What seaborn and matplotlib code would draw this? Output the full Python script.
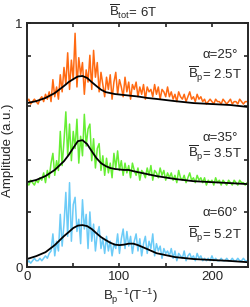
import matplotlib
matplotlib.use("Agg")
import matplotlib.pyplot as plt
import numpy as np
import seaborn as sns

# ---- Data ----
# noisy spectra sampled every 2 T^-1, heights in % of axis above each trace's floor
NOISE_X = list(range(0, 240, 2))
ORANGE_NOISE = [1, 2, 0, 1, 2, 1, 0, 2,
                3, 1, 4, 2, 5, 1,
                10, 3, 7, 2, 12,
                5, 15, 8, 21, 6,
                18, 10, 29, 7, 19,
                12, 17, 4, 14, 9,
                20, 6, 22, 11, 17,
                5, 13, 8, 3, 11,
                6, 12, 2, 9, 13,
                4, 10, 7, 3, 11,
                5, 9, 2, 8, 6,
                9, 3, 7, 4, 8,
                2, 7, 5, 6, 3, 8, 4, 7, 2, 6, 5, 3, 7,
                3, 5, 2, 4, 1, 5, 3, 2, 4, 1, 3, 5, 2, 3, 1, 4, 2, 3,
                1, 2, 0, 1, 2, 1, 0, 2, 1, 1, 0, 2, 1, 0, 1, 2, 0, 1, 1, 0, 2, 1, 0, 1, 1]
GREEN_NOISE = [1, 0, 2, 1, 0, 2, 1, 3,
               2, 5, 1, 6, 3, 9,
               13, 4, 10, 6, 22,
               8, 18, 30, 12, 25,
               10, 22, 15, 27, 9,
               20, 12, 29, 16, 23,
               25, 10, 19, 7, 15,
               17, 6, 12, 4, 11,
               5, 9, 3, 13, 7,
               14, 6, 10, 4, 9,
               5, 8, 3, 9, 6,
               4, 7, 2, 6, 5,
               3, 7, 4, 8, 2, 6, 5, 3, 7, 4, 6, 2, 5,
               3, 5, 2, 4, 1, 6, 3, 2, 4, 1, 3, 5, 2, 3, 1, 4, 2, 3,
               1, 3, 0, 2, 1, 2, 0, 3, 1, 2, 0, 2, 1, 0, 2, 1, 0, 2, 1, 0, 2, 1, 1, 0, 1]
BLUE_NOISE = [0, 1, 0, 1, 2, 1, 1, 2,
              1, 2, 3, 2, 4, 5,
              12, 3, 9, 5, 20,
              7, 16, 29, 11, 33,
              9, 24, 27, 13, 18,
              8, 26, 14, 20, 6,
              21, 9, 16, 5, 12,
              15, 6, 10, 4, 11,
              5, 9, 3, 8, 6,
              12, 4, 10, 14, 6,
              13, 7, 11, 4, 9,
              12, 5, 10, 3, 8,
              11, 4, 9, 6, 12, 3, 8, 5, 7, 2, 6, 4, 5,
              3, 6, 2, 5, 1, 4, 3, 2, 5, 1, 3, 4, 2, 3, 1, 4, 2, 3,
              1, 2, 1, 2, 1, 3, 1, 2, 1, 1, 2, 1, 1, 2, 1, 1, 2, 1, 1, 2, 1, 1, 2, 1, 1]
FLOORS = [0.668, 0.336, 0.016]

# smooth fits (black curves)
FIT_X = [0, 10, 20, 30, 40, 45, 50, 55, 60, 65, 70, 75, 80, 85, 90, 95, 100,
         105, 110, 115, 120, 130, 140, 160, 180, 200, 220, 239]
ORANGE_FIT = [0.672, 0.680, 0.693, 0.713, 0.742, 0.758, 0.770, 0.781, 0.783, 0.775,
              0.758, 0.742, 0.727, 0.717, 0.713, 0.709, 0.707, 0.705, 0.703, 0.701,
              0.699, 0.693, 0.689, 0.680, 0.672, 0.668, 0.664, 0.656]
GREEN_FIT = [0.348, 0.357, 0.373, 0.398, 0.434, 0.459, 0.488, 0.516, 0.520, 0.504,
             0.475, 0.447, 0.426, 0.414, 0.406, 0.402, 0.400, 0.398, 0.398, 0.393,
             0.389, 0.381, 0.373, 0.361, 0.352, 0.348, 0.344, 0.340]
BLUE_FIT = [0.033, 0.045, 0.061, 0.090, 0.127, 0.143, 0.160, 0.170, 0.172, 0.168,
            0.156, 0.139, 0.123, 0.111, 0.100, 0.092, 0.090, 0.092, 0.096, 0.096,
            0.090, 0.074, 0.057, 0.041, 0.033, 0.029, 0.025, 0.020]

ANGLES = ["α=25°", "α=35°", "α=60°"]
BP_LABELS = ["2.5T", "3.5T", "5.2T"]
COLORS = ["#FF6A12", "#66EE33", "#6CCBF7"]

# ---- Style ----
sns.set_style("ticks")
plt.rcParams["font.family"] = ["Liberation Sans", "DejaVu Sans"]
plt.rcParams["mathtext.fontset"] = "custom"
plt.rcParams["mathtext.rm"] = "Liberation Sans"
plt.rcParams["mathtext.it"] = "Liberation Sans:italic"

fig = plt.figure(figsize=(2.5, 3.07), dpi=100)
ax = fig.add_axes([0.108, 0.130, 0.884, 0.795])

noises = [ORANGE_NOISE, GREEN_NOISE, BLUE_NOISE]
fits = [ORANGE_FIT, GREEN_FIT, BLUE_FIT]
for noise, floor, fit, col in zip(noises, FLOORS, fits, COLORS):
    yvals = floor + np.array(noise) / 100.0
    sns.lineplot(x=NOISE_X, y=yvals, ax=ax, color=col, lw=1.1)
    sns.lineplot(x=FIT_X, y=fit, ax=ax, color="black", lw=1.3)

ax.set_xlim(0, 239)
ax.set_ylim(0, 1)
ax.set_xticks([0, 50, 100, 150, 200])
ax.set_xticklabels(["0", "", "100", "", "200"])
ax.set_yticks([0, 0.225, 0.44, 0.66, 0.865, 1])
ax.set_yticklabels(["0", "", "", "", "", "1"])
ax.tick_params(direction="in", length=3, width=1.2, labelsize=9.5, pad=3,
               top=True, right=True)
ax.set_xlabel("")
ax.set_ylabel("")
for sp in ax.spines.values():
    sp.set_linewidth(1.4)
    sp.set_visible(True)

# annotations
alpha_y = [0.869, 0.529, 0.221]
bp_y = [0.787, 0.463, 0.131]
for ang, bp, ya, yb in zip(ANGLES, BP_LABELS, alpha_y, bp_y):
    ax.text(0.955, ya, ang, transform=ax.transAxes, ha="right", va="center", fontsize=9.5)
    ax.text(0.975, yb, r"$\overline{\mathrm{B}}_{\mathrm{p}}$= " + bp, transform=ax.transAxes,
            ha="right", va="center", fontsize=9.5)

fig.text(0.532, 0.962, r"$\overline{\mathrm{B}}_{\mathrm{tot}}$= 6T", ha="center", va="center",
         fontsize=9.5)
fig.text(0.034, 0.51, "Amplitude (a.u.)", rotation=90, ha="center", va="center", fontsize=9.5)
fig.text(0.52, 0.035, r"$\mathrm{B}_{\mathrm{p}}^{\ -1}(\mathrm{T}^{-1})$", ha="center",
         va="center", fontsize=9.5)

fig.savefig("out.png", dpi=100)
